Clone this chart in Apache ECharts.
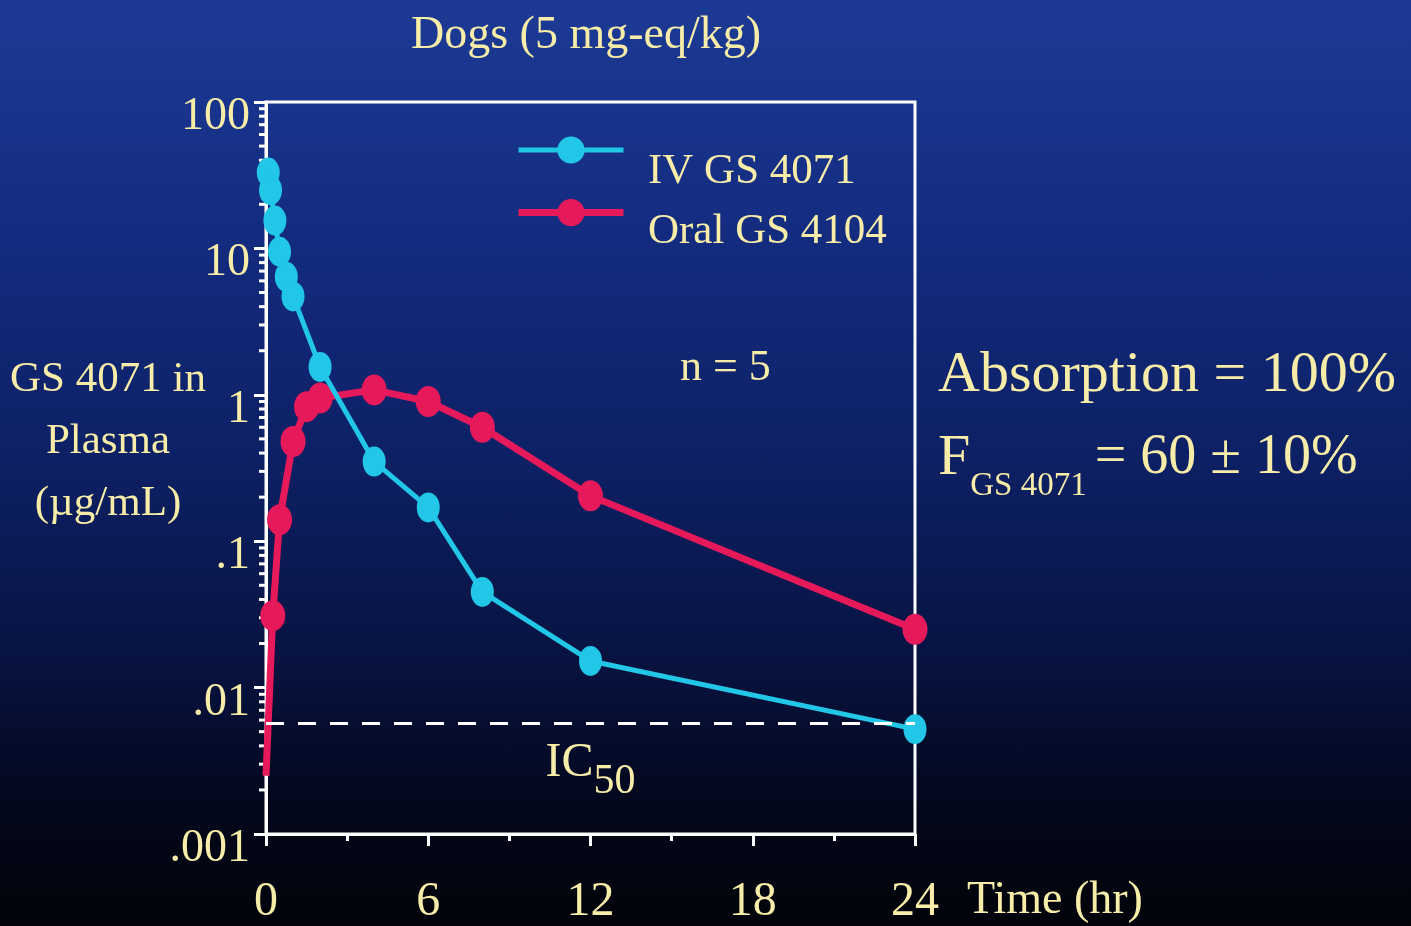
<!DOCTYPE html>
<html>
<head>
<meta charset="utf-8">
<script src="https://cdn.jsdelivr.net/npm/echarts@6/dist/echarts.min.js"></script>
<style>
html,body{margin:0;padding:0;width:1411px;height:926px;overflow:hidden;}
body{background:linear-gradient(to bottom,#1c3a95 0%,#142c80 25%,#0d2064 50%,#07123f 72%,#03071a 88%,#020309 100%);}
#chart{width:1411px;height:926px;}
</style>
</head>
<body>
<div id="chart"></div>
<script>
// ---- data ----
const ivTime   = [0.083, 0.167, 0.33, 0.5, 0.75, 1, 2, 4, 6, 8, 12, 24];
const ivConc   = [33, 25, 15.5, 9.5, 6.4, 4.7, 1.55, 0.35, 0.17, 0.045, 0.0152, 0.0052];
const oralTime = [0, 0.25, 0.5, 1, 1.5, 2, 4, 6, 8, 12, 24];
const oralConc = [0.0025, 0.031, 0.14, 0.48, 0.83, 0.95, 1.08, 0.90, 0.60, 0.204, 0.025];
const ic50 = 0.0057;
const xTicks = [0, 6, 12, 18, 24];
const yTickValues = [0.001, 0.01, 0.1, 1, 10, 100];
const yTickLabels = ['.001', '.01', '.1', '1', '10', '100'];
const seriesNames = ['IV GS 4071', 'Oral GS 4104'];

const TXT = '#f7eca8';
const FONT = '"Liberation Serif", "DejaVu Serif", serif';
const CYAN = '#22c6e6';
const RED = '#e6195b';

// minor log ticks (2..9 within each decade) for the y axis
const minorTickVals = [];
for (let d = 0; d < yTickValues.length - 1; d++) {
  for (let m = 2; m <= 9; m++) minorTickVals.push([0, yTickValues[d] * m]);
}

const chart = echarts.init(document.getElementById('chart'));
chart.setOption({
  backgroundColor: 'transparent',
  animation: false,
  title: {
    text: 'Dogs (5 mg-eq/kg)',
    left: 581, top: 8, textAlign: 'center',
    textStyle: {color: TXT, fontFamily: FONT, fontSize: 46, fontWeight: 'normal'}
  },
  legend: [
    { // symbols only
      data: [
        {name: seriesNames[0], lineStyle: {width: 5, color: CYAN}},
        {name: seriesNames[1], lineStyle: {width: 7, color: RED}}
      ],
      orient: 'vertical', left: 510, top: 128,
      itemWidth: 105, itemHeight: 34, itemGap: 32,
      formatter: () => '',
      textStyle: {fontSize: 1, padding: 0}
    },
    { // text only, set slightly lower like the reference
      data: [
        {name: seriesNames[0], itemStyle: {opacity: 0}, lineStyle: {opacity: 0}},
        {name: seriesNames[1], itemStyle: {opacity: 0}, lineStyle: {opacity: 0}}
      ],
      orient: 'vertical', left: 510, top: 145,
      itemWidth: 105, itemHeight: 34, itemGap: 16,
      textStyle: {color: TXT, fontFamily: FONT, fontSize: 43, lineHeight: 44, padding: [0, 0, 0, 22]}
    }
  ],
  grid: {
    left: 266, right: 496, top: 102, bottom: 92,
    outerBoundsMode: 'none', containLabel: false,
    show: true, borderColor: '#ffffff', borderWidth: 3, backgroundColor: 'transparent'
  },
  xAxis: {
    type: 'value', min: 0, max: 24, interval: 6,
    name: 'Time (hr)', nameLocation: 'end', nameGap: 52, nameMoveOverlap: false,
    nameTextStyle: {color: TXT, fontFamily: FONT, fontSize: 46, verticalAlign: 'top', align: 'left', padding: [44, 0, 0, 0]},
    axisLine: {show: true, lineStyle: {color: '#ffffff', width: 3}},
    axisTick: {show: true, length: 12, lineStyle: {color: '#ffffff', width: 3}},
    minorTick: {show: true, splitNumber: 2, length: 7, lineStyle: {color: '#ffffff', width: 3}},
    splitLine: {show: false},
    axisLabel: {
      color: TXT, fontFamily: FONT, fontSize: 48, margin: 44,
      formatter: v => xTicks.indexOf(v) >= 0 ? String(v) : ''
    }
  },
  yAxis: {
    type: 'log', logBase: 10, min: 0.001, max: 100,
    name: '{a|GS 4071 in}\n{a|Plasma}\n{a|(µg/mL)}\n{s| }', nameLocation: 'middle', nameRotate: 0, nameGap: 158, nameMoveOverlap: false,
    nameTextStyle: {
      color: TXT, fontFamily: FONT, fontSize: 43, align: 'center', verticalAlign: 'middle',
      rich: {
        a: {color: TXT, fontFamily: FONT, fontSize: 43, lineHeight: 62},
        s: {fontSize: 10, lineHeight: 52}
      }
    },
    axisLine: {show: true, lineStyle: {color: '#ffffff', width: 3}},
    axisTick: {show: true, length: 12, lineStyle: {color: '#ffffff', width: 3}},
    splitLine: {show: false},
    axisLabel: {
      color: TXT, fontFamily: FONT, fontSize: 46, margin: 16, verticalAlign: 'top', lineHeight: 30,
      formatter: v => {
        for (let i = 0; i < yTickValues.length; i++) {
          if (Math.abs(Math.log10(v) - Math.log10(yTickValues[i])) < 1e-6) return yTickLabels[i];
        }
        return '';
      }
    }
  },
  series: [
    {
      name: 'minorTicks', type: 'custom', clip: false, silent: true,
      data: minorTickVals,
      encode: {x: 0, y: 1},
      renderItem: (params, api) => {
        const p = api.coord([0, api.value(1)]);
        return {type: 'line', shape: {x1: p[0] - 7, y1: p[1], x2: p[0], y2: p[1]},
                style: {stroke: '#ffffff', lineWidth: 3}};
      },
      z: 1
    },
    {
      name: seriesNames[1], type: 'line', clip: false,
      data: oralTime.map((t, i) => i === 0 ? {value: [t, oralConc[i]], symbol: 'none'} : [t, oralConc[i]]),
      symbol: 'circle', symbolSize: [25, 31],
      lineStyle: {color: RED, width: 7},
      itemStyle: {color: RED},
      z: 3
    },
    {
      name: seriesNames[0], type: 'line', clip: false,
      data: ivTime.map((t, i) => [t, ivConc[i]]),
      symbol: 'circle', symbolSize: [23, 30],
      lineStyle: {color: CYAN, width: 5},
      itemStyle: {color: CYAN},
      z: 4,
      markLine: {
        silent: true, symbol: ['none', 'none'],
        lineStyle: {color: '#ffffff', type: [18, 14], width: 3},
        data: [[{coord: [0, ic50]}, {coord: [24, ic50]}]],
        label: {
          show: true, position: 'insideMiddleBottom', distance: 16,
          formatter: '{a|IC}{b|50}',
          rich: {
            a: {color: TXT, fontFamily: FONT, fontSize: 48, verticalAlign: 'top', lineHeight: 48},
            b: {color: TXT, fontFamily: FONT, fontSize: 42, verticalAlign: 'top', lineHeight: 48, padding: [22, 0, 0, 0]}
          }
        }
      }
    }
  ],
  graphic: [
    {type: 'text', left: 680, top: 346,
     style: {text: 'n = 5', fill: TXT, font: '44px ' + FONT}},
    {type: 'text', left: 938, top: 347,
     style: {text: 'Absorption = 100%', fill: TXT, font: '58px ' + FONT}},
    {type: 'text', left: 938, top: 430,
     style: {
       text: '{f|F}{s|GS 4071}{n|= 60 ± 10%}',
       rich: {
         f: {fill: TXT, fontFamily: FONT, fontSize: 58, verticalAlign: 'top', lineHeight: 64},
         s: {fill: TXT, fontFamily: FONT, fontSize: 33, verticalAlign: 'top', lineHeight: 64, padding: [40, 0, 0, 0]},
         n: {fill: TXT, fontFamily: FONT, fontSize: 56, verticalAlign: 'top', lineHeight: 64, padding: [0, 0, 0, 8]}
       }
     }}
  ]
});
</script>
</body>
</html>
